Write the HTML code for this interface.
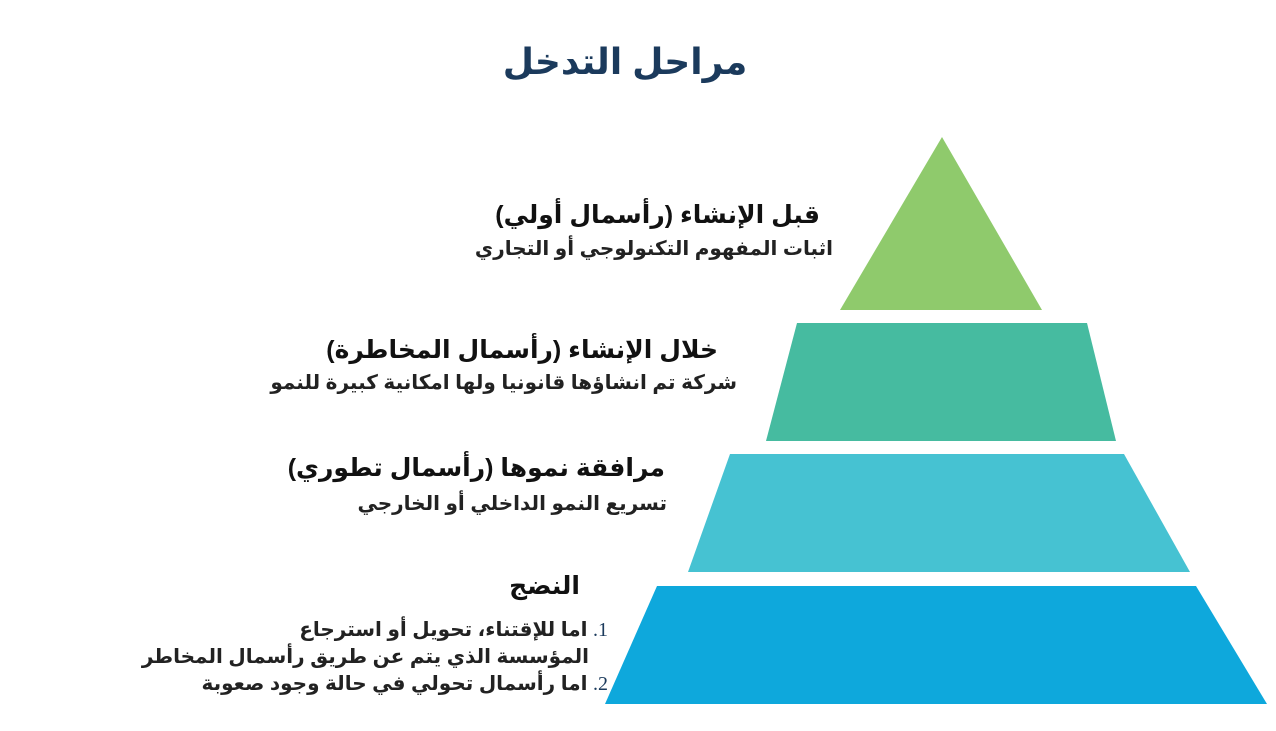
<!DOCTYPE html>
<html><head><meta charset="utf-8">
<style>
html,body{margin:0;padding:0;width:1276px;height:731px;background:#fff;overflow:hidden;position:relative;font-family:"Liberation Sans","Noto Sans CJK SC","DejaVu Sans",sans-serif;}
.t{position:absolute;direction:rtl;white-space:nowrap;font-weight:bold;}
.h{font-size:25px;color:#111;}
.s{font-size:20px;color:#222;}
.n{font-family:"Liberation Serif",serif;font-weight:normal;color:#1b3a5c;}
</style></head><body>
<svg width="1276" height="731" style="position:absolute;left:0;top:0">
<polygon points="942,137 1042,310 840,310" fill="#8fca6c"/>
<polygon points="797,323 1087,323 1116,441 766,441" fill="#46bba0"/>
<polygon points="730,454 1124,454 1190,572 688,572" fill="#46c2d2"/>
<polygon points="657,586 1196,586 1267,704 605,704" fill="#0ea8dc"/>
</svg>
<div class="t" style="left:0;width:1250px;text-align:center;top:41px;font-size:36px;color:#1b3a5c;direction:rtl">مراحل التدخل</div>

<div class="t h" style="right:456px;top:200px">قبل الإنشاء (رأسمال أولي)</div>
<div class="t s" style="right:443px;top:236px">اثبات المفهوم التكنولوجي أو التجاري</div>

<div class="t h" style="right:558px;top:335px">خلال الإنشاء (رأسمال المخاطرة)</div>
<div class="t s" style="right:539px;top:370px">شركة تم انشاؤها قانونيا ولها امكانية كبيرة للنمو</div>

<div class="t h" style="right:611px;top:453px">مرافقة نموها (رأسمال تطوري)</div>
<div class="t s" style="right:609px;top:491px">تسريع النمو الداخلي أو الخارجي</div>

<div class="t h" style="right:696px;top:571px">النضج</div>
<div class="t s" style="right:668px;top:617px"><span class="n">1.</span> اما للإقتناء، تحويل أو استرجاع</div>
<div class="t s" style="right:687px;top:644px">المؤسسة الذي يتم عن طريق رأسمال المخاطر</div>
<div class="t s" style="right:668px;top:671px"><span class="n">2.</span> اما رأسمال تحولي في حالة وجود صعوبة</div>
</body></html>
